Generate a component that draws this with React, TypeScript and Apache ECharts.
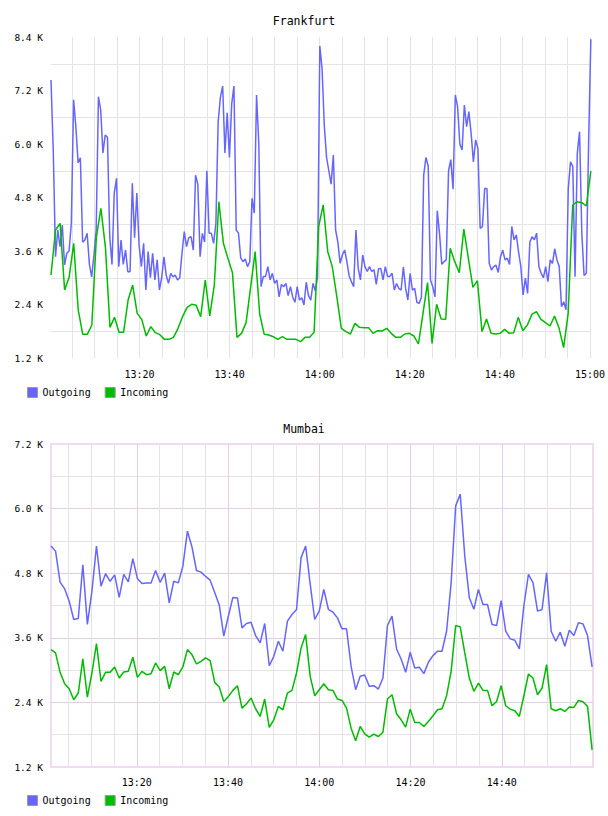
import { useEffect, useRef } from "react";
import * as echarts from "echarts";

// Frankfurt outgoing, sampled every ~30 s from ~13:00:20 to 15:00
const frankfurtOutgoing = [
  7435, 5850, 3473, 4071, 3698, 4183, 3287, 3548, 3600, 4221,
  6990, 6390, 5580, 5690, 3800, 3847, 3996, 3300, 3017, 3500,
  4071, 7061, 6763, 5800, 6200, 6150, 3922, 3300, 4900, 5230,
  3249, 3847, 3300, 3623, 3137, 3137, 5120, 3900, 4900, 3735,
  3249, 3772, 2725, 3585, 3000, 3550, 2950, 3400, 2725, 3000,
  3470, 3060, 2875, 3100, 3020, 3060, 2950, 3000, 3550, 4034,
  3700, 3900, 3920, 3620, 5300, 5100, 3473, 3996, 3800, 5400,
  3996, 3996, 3772, 4221, 6500, 7050, 7300, 5800, 6700, 5700,
  6900, 7300, 4071, 4000, 3440, 3360, 3420, 3250, 3360, 4780,
  4450, 7100, 6000, 2800, 3030, 3030, 3250, 2950, 3100, 2875,
  2950, 2570, 2850, 2800, 2875, 2600, 2800, 2570, 2450, 2800,
  2500, 2550, 2390, 2900, 2600, 2500, 2875, 2700, 3000, 8200,
  7700, 6400, 5700, 5400, 5100, 5750, 4071, 3800, 3324, 3510,
  3623, 3361, 3040, 2910, 2800, 4071, 3210, 2950, 3510, 3250,
  3140, 3250, 3140, 3180, 2850, 3200, 3210, 2950, 3250, 3030,
  3030, 3100, 2725, 2870, 2760, 2725, 3240, 2760, 2500, 3100,
  2725, 2760, 2450, 2425, 2570, 5300, 5700, 5500, 2950, 2800,
  2570, 4500, 4000, 3300, 3360, 3400, 5400, 5650, 4984, 7100,
  6840, 6000, 5865, 6875, 6390, 6725, 6240, 5600, 6090, 5900,
  4108, 4146, 5000, 5000, 3323, 3174, 3250, 3280, 3120, 3470,
  3620, 3400, 3440, 3300, 4150, 3850, 3960, 3580, 3250, 2613,
  2990, 2650, 3800, 3920, 3850, 4000, 3249, 3100, 3000, 3250,
  2910, 3400, 3320, 3650, 3400, 3250, 2350, 2460, 2280, 5000,
  5600, 5500, 3020, 5791, 6276, 3996, 3050, 3100, 6000, 8350,
];

// Frankfurt incoming, sampled every minute
const frankfurtIncoming = [
  3062, 4071, 4221, 2725, 3009, 3772, 2277, 1731, 1731, 1940,
  3907, 4557, 3682, 1888, 2112, 1776, 1776, 2501, 2837, 2202,
  2067, 1693, 1903, 1768, 1723, 1618, 1618, 1663, 1865, 2127,
  2336, 2404, 2381, 2127, 2949, 2142, 2837, 4706, 3772, 3435,
  3114, 1663, 1753, 1993, 2785, 3585, 2187, 1731, 1716, 1678,
  1618, 1678, 1618, 1618, 1618, 1566, 1663, 1663, 1776, 4146,
  4632, 3585, 3249, 2576, 1865, 1791, 1738, 1977, 1888, 1881,
  1881, 1753, 1813, 1806, 1865, 1753, 1663, 1663, 1738, 1753,
  1693, 1514, 2202, 2890, 1529, 2404, 2075, 2067, 3660, 3361,
  3114, 4093, 3435, 2785, 2934, 1791, 2075, 1753, 1738, 1753,
  1843, 1753, 1768, 2112, 1813, 1940, 2179, 2239, 2067, 1992,
  1918, 2142, 1865, 1432, 2202, 4632, 4706, 4684, 4609, 5394,
];

// Mumbai, sampled every minute
const mumbaiOutgoing = [
  5306, 5210, 4635, 4510, 4280, 3940, 3960, 4958, 3850, 4467,
  5306, 4560, 4790, 4650, 4770, 4350, 4780, 4640, 5070, 4700,
  4610, 4620, 4620, 4850, 4630, 4800, 4250, 4650, 4620, 4930,
  5580, 5290, 4850, 4820, 4740, 4670, 4440, 4210, 3630, 4000,
  4350, 4340, 3785, 3865, 3890, 3640, 3505, 3865, 3080, 3256,
  3536, 3350, 3909, 4033, 4126, 5089, 5306, 4600, 3940, 4100,
  4500, 4130, 4076, 3970, 3766, 3766, 3071, 2636, 2885, 2910,
  2698, 2710, 2648, 2853, 3828, 4002, 3393, 3207, 2958, 3331,
  3040, 3052, 2934, 3145, 3269, 3350, 3350, 3722, 4620, 6051,
  6268, 5120, 4343, 4130, 4500, 4219, 4219, 3847, 3828, 4290,
  3722, 3580, 3555, 3393, 4200, 4778, 4624, 4095, 4126, 4809,
  3722, 3536, 3704, 3443, 3741, 3642, 3878, 3859, 3642, 3058,
];

const mumbaiIncoming = [
  3381, 3319, 2959, 2747, 2654, 2449, 2574, 3207, 2499, 2946,
  3493, 2791, 2959, 2959, 3058, 2853, 2965, 2977, 3238, 2865,
  2977, 2915, 2934, 3133, 2990, 3070, 2654, 2965, 2915, 3058,
  3381, 3288, 3114, 3163, 3226, 3176, 2772, 2686, 2418, 2511,
  2623, 2710, 2294, 2375, 2481, 2282, 2139, 2462, 1934, 2077,
  2325, 2263, 2574, 2623, 2946, 3412, 3660, 2884, 2524, 2636,
  2747, 2636, 2623, 2462, 2437, 2294, 1922, 1686, 1953, 1816,
  1754, 1810, 1766, 1847, 2462, 2542, 2189, 2077, 1940, 2275,
  2027, 2027, 1953, 2046, 2151, 2263, 2282, 2524, 2977, 3828,
  3803, 3319, 2853, 2605, 2760, 2623, 2623, 2338, 2418, 2710,
  2338, 2275, 2244, 2139, 2524, 2928, 2853, 2542, 2667, 3101,
  2282, 2244, 2282, 2232, 2313, 2307, 2437, 2412, 2325, 1518,
];

// Labelled ticks
const frankfurtYLabels = [1200, 2400, 3600, 4800, 6000, 7200, 8400];
const frankfurtXLabels = ["13:20", "13:40", "14:00", "14:20", "14:40", "15:00"];
const mumbaiXLabels = ["13:20", "13:40", "14:00", "14:20", "14:40"];

// Time range (minutes after 13:00)
const frankfurtRange = [0.35, 120.2];
const mumbaiRange = [1.19, 120];
const mumbaiLast = 119.8;

const FONT = "'DejaVu Sans Mono', monospace";
const BLUE = "#6666ff";
const GREEN = "#00bb00";
const MINOR = "#e4e4e4";
const MAJOR = "#e2cde2";

function toPairs(values: number[], start: number, end: number) {
  const n = values.length;
  return values.map((v, i) => [start + (i * (end - start)) / (n - 1), v]);
}

function fmtTime(v: number) {
  const h = 13 + Math.floor(v / 60);
  const m = Math.round(v % 60);
  return `${h}:${m < 10 ? "0" + m : m}`;
}

function fmtK(v: number) {
  return (v / 1000).toFixed(1) + " K";
}

export default function App() {
  const ref = useRef<HTMLDivElement>(null);

  useEffect(() => {
    if (!ref.current) return;
    const chart = echarts.init(ref.current, undefined, { renderer: "svg" });

    const xLabel = (labels: string[]) => (v: number) => {
      if (Math.abs(v - Math.round(v)) > 0.001) return "";
      const s = fmtTime(v);
      return labels.includes(s) ? s : "";
    };
    const yLabel = (labels: number[]) => (v: number) =>
      labels.includes(Math.round(v)) ? fmtK(v) : "";

    const lineSeries = (name: string, data: number[][], color: string, xi: number, yi: number) => ({
      name,
      type: "line",
      xAxisIndex: xi,
      yAxisIndex: yi,
      data,
      symbol: "none",
      showSymbol: false,
      color,
      lineStyle: { color, width: 1.5 },
      emphasis: { disabled: true },
    });

    const legendBase = {
      data: ["Outgoing", "Incoming"],
      left: 22,
      itemWidth: 10,
      itemHeight: 10,
      itemGap: 14,
      icon: "rect",
      selectedMode: false,
      itemStyle: { borderColor: "#999", borderWidth: 1 },
      textStyle: { fontFamily: FONT, fontSize: 10, color: "#000" },
    };

    const hidden = { axisLine: { show: false }, axisTick: { show: false } };
    const titleStyle = { fontFamily: FONT, fontSize: 11.5, fontWeight: "normal", color: "#000" };

    chart.setOption({
      animation: false,
      backgroundColor: "#fff",
      title: [
        { text: "Frankfurt", left: "center", top: 10, textStyle: titleStyle },
        { text: "Mumbai", left: "center", top: 418, textStyle: titleStyle },
      ],
      legend: [
        { ...legendBase, top: 382 },
        { ...legendBase, top: 790 },
      ],
      grid: [
        { left: 51, top: 37, width: 541, height: 321, show: false },
        {
          left: 51,
          top: 444,
          width: 542,
          height: 323,
          show: true,
          borderColor: "#f0dcf0",
          borderWidth: 2,
          backgroundColor: "transparent",
        },
      ],
      xAxis: [
        {
          gridIndex: 0,
          type: "value",
          min: frankfurtRange[0],
          max: frankfurtRange[1],
          minInterval: 5,
          maxInterval: 5,
          splitNumber: 24,
          ...hidden,
          axisLabel: {
            formatter: xLabel(frankfurtXLabels),
            fontFamily: FONT,
            fontSize: 10,
            color: "#000",
            margin: 11,
          },
          splitLine: {
            show: true,
            showMinLine: false,
            showMaxLine: false,
            lineStyle: { color: MINOR, width: 1 },
          },
        },
        {
          gridIndex: 1,
          type: "value",
          min: mumbaiRange[0],
          max: mumbaiRange[1],
          minInterval: 5,
          maxInterval: 5,
          splitNumber: 24,
          ...hidden,
          axisLabel: {
            formatter: xLabel(mumbaiXLabels),
            fontFamily: FONT,
            fontSize: 10,
            color: "#000",
            margin: 10,
          },
          splitLine: {
            show: true,
            showMinLine: false,
            showMaxLine: false,
            lineStyle: { color: MINOR, width: 1 },
          },
        },
        {
          gridIndex: 1,
          type: "value",
          position: "top",
          min: mumbaiRange[0],
          max: mumbaiRange[1],
          minInterval: 20,
          maxInterval: 20,
          splitNumber: 6,
          ...hidden,
          axisLabel: { show: false },
          splitLine: {
            show: true,
            showMinLine: false,
            showMaxLine: false,
            lineStyle: { color: MAJOR, width: 1 },
          },
        },
      ],
      yAxis: [
        {
          gridIndex: 0,
          type: "value",
          min: 1200,
          max: 8400,
          interval: 600,
          ...hidden,
          axisLabel: {
            formatter: yLabel(frankfurtYLabels),
            fontFamily: FONT,
            fontSize: 9.5,
            color: "#000",
            margin: 8,
          },
          splitLine: {
            show: true,
            lineStyle: { color: ["rgba(0,0,0,0)", MINOR], width: 1 },
          },
        },
        {
          gridIndex: 1,
          type: "value",
          position: "right",
          min: 1200,
          max: 7200,
          interval: 600,
          ...hidden,
          axisLabel: { show: false },
          splitLine: {
            show: true,
            showMinLine: false,
            showMaxLine: false,
            lineStyle: { color: MINOR, width: 1 },
          },
        },
        {
          gridIndex: 1,
          type: "value",
          position: "left",
          min: 1200,
          max: 7200,
          interval: 1200,
          ...hidden,
          axisLabel: {
            formatter: (v: number) => fmtK(v),
            fontFamily: FONT,
            fontSize: 9.5,
            color: "#000",
            margin: 8,
          },
          splitLine: {
            show: true,
            showMinLine: false,
            showMaxLine: false,
            lineStyle: { color: MAJOR, width: 1 },
          },
        },
      ],
      series: [
        lineSeries("Outgoing", toPairs(frankfurtOutgoing, frankfurtRange[0], frankfurtRange[1]), BLUE, 0, 0),
        lineSeries("Incoming", toPairs(frankfurtIncoming, frankfurtRange[0], frankfurtRange[1]), GREEN, 0, 0),
        lineSeries("Outgoing", toPairs(mumbaiOutgoing, mumbaiRange[0], mumbaiLast), BLUE, 1, 2),
        lineSeries("Incoming", toPairs(mumbaiIncoming, mumbaiRange[0], mumbaiLast), GREEN, 1, 2),
      ],
    });

    return () => chart.dispose();
  }, []);

  return (
    <div
      ref={ref}
      style={{ position: "absolute", left: 0, top: 0, width: 608, height: 816, background: "#fff" }}
    />
  );
}
